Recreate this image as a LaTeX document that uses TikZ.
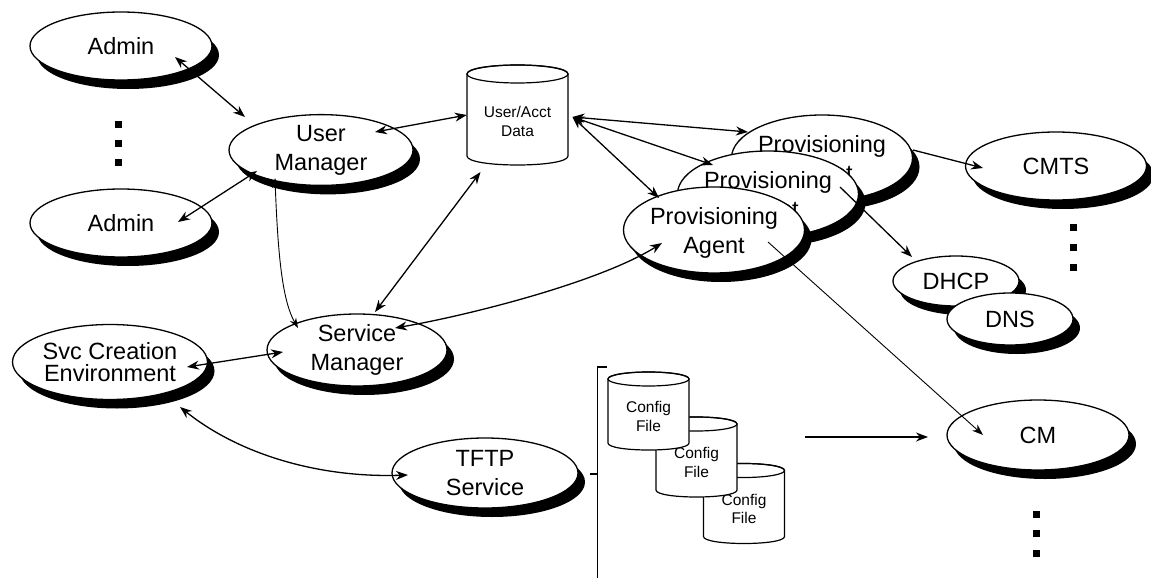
\documentclass[tikz,border=0pt]{standalone}
\usepackage{fontspec}
\setmainfont{Liberation Sans}
\usetikzlibrary{shapes.geometric,shadows,arrows.meta}

% cylinder: #1 name, #2 cx, #3 cy, #4 half width, #5 half height, #6 rim radius, #7 text style, #8 label
\newcommand\drum[8]{%
  \path[fill=white,draw,line width=1.2pt]
    (#2-#4,#3-#5+#6) -- (#2-#4,#3+#5-#6)
    .. controls (#2-#4,#3+#5+#6/3) and (#2+#4,#3+#5+#6/3) .. (#2+#4,#3+#5-#6)
    -- (#2+#4,#3-#5+#6)
    .. controls (#2+#4,#3-#5-#6/3) and (#2-#4,#3-#5-#6/3) .. cycle;
  \draw[line width=1.2pt] (#2,#3-#5+#6) ellipse [x radius=#4, y radius=#6];
  \node[#7, minimum width=2*#4 pt, minimum height=2*#5 pt] (#1) at (#2,#3) {};
  \node[#7] at (#2,#3+#6/2+2) {#8};
}

\begin{document}
\begin{tikzpicture}[x=1pt,y=-1pt,
  bubble/.style={ellipse, draw, line width=1.3pt, fill=white, inner sep=0pt, align=center,
    font=\fontsize{23.5}{29}\selectfont,
    drop shadow={shadow xshift=7pt, shadow yshift=-9pt, opacity=1, fill=black}},
  provbox/.style={bubble, minimum width=180pt, minimum height=86pt},
  drumtext/.style={inner sep=0pt, align=center, font=\fontsize{15.5}{18.5}\selectfont},
  link/.style={line width=1.3pt, {Stealth[length=12pt,width=9pt]}-{Stealth[length=12pt,width=9pt]}},
  flow/.style={line width=1.3pt, -{Stealth[length=12pt,width=9pt]}},
  thinlink/.style={line width=0.9pt, {Stealth[length=10pt,width=7pt]}-{Stealth[length=10pt,width=7pt]}},
  thinflow/.style={line width=0.9pt, -{Stealth[length=11pt,width=8pt]}},
  dot/.style={rectangle, fill=black, inner sep=0pt, minimum size=7pt},
]
\useasboundingbox (0,0) rectangle (1151,578);

% ---- left column ----
\node[bubble, minimum width=182pt, minimum height=68pt] (admA) at (121,46) {Admin};
\node[bubble, minimum width=182pt, minimum height=68pt] (admB) at (121,223) {Admin};
\node[dot] (ldot1) at (118,124) {};
\node[dot] (ldot2) at (118,143) {};
\node[dot] (ldot3) at (118,162) {};

\node[bubble, minimum width=184pt, minimum height=68pt] (um) at (321,150) {User\\Manager};
\node[bubble, minimum width=180pt, minimum height=68pt] (sm) at (357,350) {Service\\Manager};
\node[bubble, minimum width=195pt, minimum height=75pt,
      font=\fontsize{23.5}{22.5}\selectfont] (sce) at (110,362) {Svc Creation\\Environment};
\node[bubble, minimum width=186pt, minimum height=70pt] (tftp) at (485,473) {TFTP\\Service};

% ---- data store ----
\drum{data}{517.5}{115}{50.5}{50}{9}{drumtext}{User/Acct\\Data}

% ---- provisioning agents (back to front) ----
\node[provbox] (provC) at (822,158) {\rule{0pt}{23pt}Provisioning\\Agent};
\node[provbox] (provB) at (768,194) {\rule{0pt}{23pt}Provisioning\\Agent};
\node[provbox] (agent) at (714,230) {\rule{0pt}{23pt}Provisioning\\Agent};

% ---- network elements ----
\node[bubble, minimum width=181pt, minimum height=68pt] (cmts) at (1056,166) {CMTS};
\node[dot] (rdot1) at (1073,227) {};
\node[dot] (rdot2) at (1073,247) {};
\node[dot] (rdot3) at (1073,267) {};
\node[bubble, minimum width=126pt, minimum height=50pt] (dhcp) at (956,281) {DHCP};
\node[bubble, minimum width=126pt, minimum height=52pt] (dns) at (1010,319) {DNS};
\node[bubble, minimum width=182pt, minimum height=70pt] (cm) at (1038,435) {CM};
\node[dot] (cdot1) at (1036,514) {};
\node[dot] (cdot2) at (1036,533) {};
\node[dot] (cdot3) at (1036,553) {};

% ---- config files (rear one first) ----
\drum{cfgC}{744}{503.5}{40.5}{40}{7}{drumtext}{Config\\File}
\drum{cfgB}{696.5}{457}{40.5}{40}{7}{drumtext}{Config\\File}
\drum{cfgA}{648.5}{411}{40.5}{39}{7}{drumtext}{Config\\File}
\draw[line width=1.3pt] (607,367) -- (597.5,367) -- (597.5,578);
\draw[line width=1.3pt] (590,474) -- (597.5,474);
\coordinate (cfgout) at (805,437);

% ---- connectors ----
\draw[link] ([shift={(54,11)}]admA.center) -- ([shift={(-76,-33)}]um.center);
\draw[link] ([shift={(-64,21)}]um.center) -- ([shift={(57,-1)}]admB.center);
\draw[link] ([shift={(54,-18)}]um.center) -- (data.west);
\draw[thinlink] ([shift={(-46,28)}]um.center)
  .. controls (278,260) and (283,302) .. ([shift={(-59,-22)}]sm.center);
\draw[link] ([shift={(-37,57)}]data.center) -- ([shift={(18,-38)}]sm.center);
\draw[link] ([shift={(38,-22)}]sm.center)
  .. controls (470,315) and (600,282) .. ([shift={(-52,13)}]agent.center);
\draw[link] ([shift={(77,5)}]sce.center) -- ([shift={(-74,2)}]sm.center);
\draw[link] ([shift={(70,45)}]sce.center)
  .. controls (240,455) and (320,478) .. ([shift={(-77,2)}]tftp.center);

\draw[link] ([shift={(55,2)}]data.center) -- ([shift={(-74,-26)}]provC.center);
\draw[link] ([shift={(55,2)}]data.center) -- ([shift={(-55,-29)}]provB.center);
\draw[link] ([shift={(55,2)}]data.center) -- ([shift={(-55,-32)}]agent.center);

\draw[flow] ([shift={(91,-8)}]provC.center) -- ([shift={(-73,2)}]cmts.center);
\draw[flow] ([shift={(72,-7)}]provB.center) -- ([shift={(-44,-24)}]dhcp.center);
\draw[thinflow] ([shift={(54,12)}]agent.center) -- ([shift={(-55,0)}]cm.center);
\draw[flow] (cfgout) -- ([shift={(-110,2)}]cm.center);
\end{tikzpicture}
\end{document}
